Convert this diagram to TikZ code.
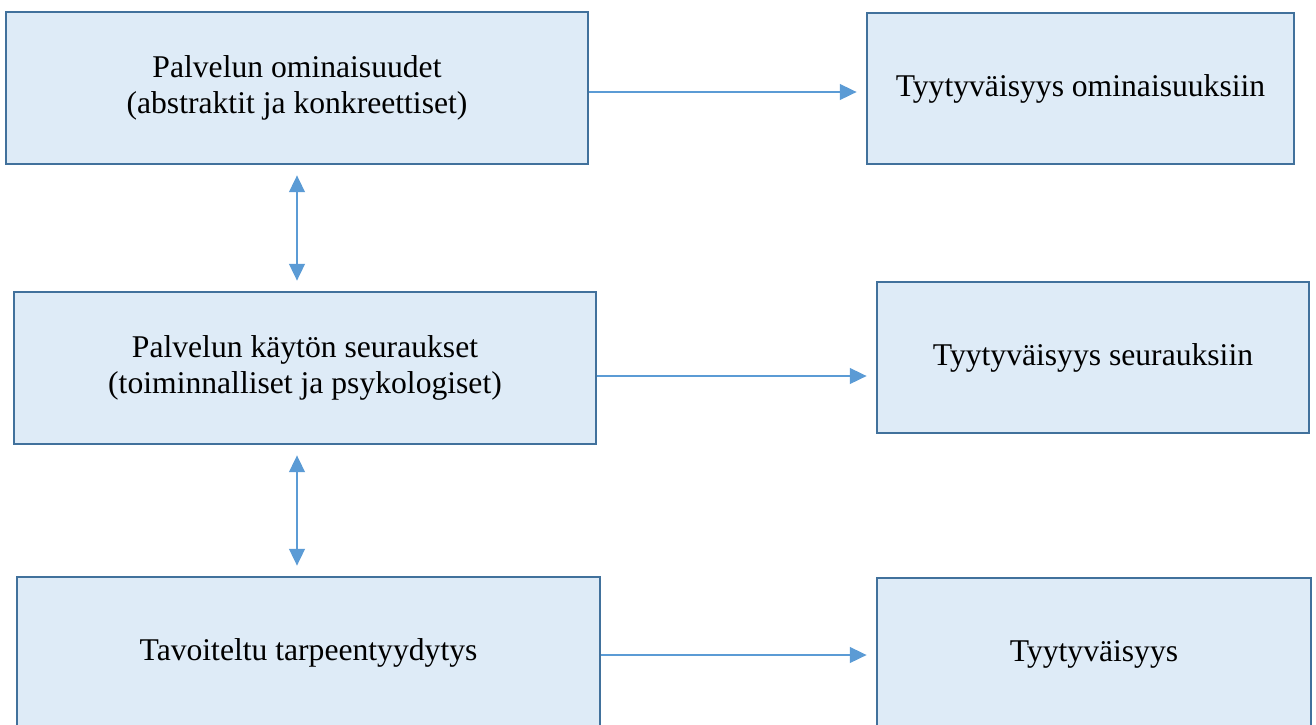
\documentclass[tikz,border=0pt]{standalone}
\usepackage{fontspec}
\setmainfont{Liberation Serif}
\usetikzlibrary{arrows.meta}
\definecolor{boxfill}{HTML}{DEEBF7}
\definecolor{boxline}{HTML}{41719C}
\definecolor{arrowblue}{HTML}{5B9BD5}

\begin{document}
\begin{tikzpicture}[
  box/.style={draw=boxline, fill=boxfill, line width=1.6pt, align=center,
    font=\fontsize{18}{20.5}\selectfont, inner sep=0pt},
  leftbox/.style={box, minimum width=11.64cm, minimum height=3.04cm},
  rightbox/.style={box, minimum height=3.02cm},
  tip/.tip={Triangle[length=9.5pt,width=9pt]},
  link/.style={arrowblue, line width=0.8pt, -tip, shorten >=0.18cm},
  dlink/.style={arrowblue, line width=0.8pt, tip-tip, shorten <=0.2cm, shorten >=0.2cm}
]
  \useasboundingbox (0, 0) rectangle (26.32, -14.48);

  \node[leftbox] at (5.94, -1.76) (omin) {Palvelun ominaisuudet\\(abstraktit ja konkreettiset)};
  \node[leftbox] at (6.10, -7.36) (seur) {Palvelun käytön seuraukset\\(toiminnalliset ja psykologiset)};
  \node[leftbox, minimum width=11.66cm] at (6.17, -13.06) (tarve) {Tavoiteltu tarpeentyydytys};

  \node[rightbox, minimum width=8.54cm] at (21.61, -1.77) (tomin) {Tyytyväisyys ominaisuuksiin};
  \node[rightbox, minimum width=8.64cm] at (21.86, -7.15) (tseur) {Tyytyväisyys seurauksiin};
  \node[rightbox, minimum width=8.68cm, minimum height=3.04cm] at (21.88, -13.08) (tyyt) {Tyytyväisyys};

  \draw[link] ([yshift=-0.08cm]omin.east) -- ([yshift=-0.08cm]omin.east -| tomin.west);
  \draw[link] ([yshift=-0.16cm]seur.east) -- ([yshift=-0.16cm]seur.east -| tseur.west);
  \draw[link] ([yshift=-0.04cm]tarve.east) -- ([yshift=-0.04cm]tarve.east -| tyyt.west);

  \draw[dlink] (omin.south) -- (omin.south |- seur.north);
  \draw[dlink] (omin.south |- seur.south) -- (omin.south |- tarve.north);
\end{tikzpicture}
\end{document}
